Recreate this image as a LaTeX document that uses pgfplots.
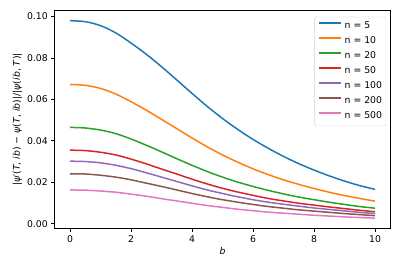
\documentclass[border=0pt]{standalone}
\usepackage{fontspec}
\setmainfont{DejaVu Sans}
\usepackage{pgfplots}
\pgfplotsset{compat=1.18}
\usepackage{pgfplotstable}
\definecolor{c0}{HTML}{1F77B4}
\definecolor{c1}{HTML}{FF7F0E}
\definecolor{c2}{HTML}{2CA02C}
\definecolor{c3}{HTML}{D62728}
\definecolor{c4}{HTML}{9467BD}
\definecolor{c5}{HTML}{8C564B}
\definecolor{c6}{HTML}{E377C2}
\pgfplotstableread{
b n5 n10 n20 n50 n100 n200 n500
0 0.0980 0.0672 0.0465 0.0355 0.0302 0.0241 0.0163
0.5 0.0975 0.0668 0.0462 0.0353 0.0300 0.0240 0.0162
1 0.0956 0.0653 0.0452 0.0345 0.0294 0.0234 0.0158
1.5 0.0921 0.0626 0.0435 0.0332 0.0282 0.0225 0.0152
2 0.0872 0.0589 0.0409 0.0312 0.0266 0.0212 0.0143
2.5 0.0818 0.0548 0.0379 0.0289 0.0246 0.0196 0.0133
3 0.0758 0.0504 0.0347 0.0264 0.0225 0.0180 0.0121
3.5 0.0694 0.0459 0.0314 0.0240 0.0204 0.0163 0.0110
4 0.0629 0.0414 0.0282 0.0215 0.0183 0.0146 0.0099
4.5 0.0566 0.0371 0.0252 0.0192 0.0163 0.0130 0.0088
5 0.0508 0.0332 0.0225 0.0171 0.0146 0.0116 0.0079
5.5 0.0455 0.0297 0.0201 0.0153 0.0130 0.0104 0.0070
6 0.0407 0.0265 0.0180 0.0137 0.0116 0.0093 0.0063
6.5 0.0364 0.0237 0.0161 0.0122 0.0104 0.0083 0.0056
7 0.0325 0.0212 0.0144 0.0110 0.0094 0.0075 0.0051
7.5 0.0290 0.0190 0.0129 0.0099 0.0085 0.0067 0.0046
8 0.0259 0.0170 0.0116 0.0090 0.0076 0.0061 0.0041
8.5 0.0231 0.0152 0.0104 0.0081 0.0069 0.0055 0.0037
9 0.0206 0.0136 0.0093 0.0073 0.0062 0.0049 0.0033
9.5 0.0184 0.0122 0.0083 0.0065 0.0055 0.0044 0.0030
10 0.0166 0.0109 0.0075 0.0058 0.0049 0.0039 0.0027
}\data
\begin{document}
\begin{tikzpicture}
\begin{axis}[
  name=ax,
  scale only axis,
  width=335.5pt, height=217.6pt,
  xmin=-0.5, xmax=10.5,
  ymin=-0.0022, ymax=0.1028,
  xtick={0,2,4,6,8,10},
  ytick={0,0.02,0.04,0.06,0.08,0.10},
  yticklabel style={/pgf/number format/.cd, fixed, fixed zerofill, precision=2},
  scaled y ticks=false,
  /pgf/number format/assume math mode=true,
  tick align=outside,
  major tick length=3.5pt,
  tick style={black, line width=0.8pt},
  axis line style={line width=0.8pt},
  tick label style={font=\fontsize{9.3}{11}\selectfont},
  xtick pos=bottom, ytick pos=left,
  xlabel={\fontsize{9.3}{11}\selectfont\textit{b}},
  ylabel={\fontsize{9.3}{11}\selectfont|\textit{ψ}′(\textit{T}, \textit{ib}) − \textit{ψ}(\textit{T}, \textit{ib})|/|\textit{ψ}(\textit{ib}, \textit{T})|},
  xlabel style={yshift=2pt},
  ylabel style={yshift=-2pt},
  legend style={at={(0.988,0.972)}, anchor=north east, draw=black!18, rounded corners=2pt,
    font=\fontsize{9.3}{11}\selectfont, row sep=6pt, inner xsep=4pt, inner ysep=5pt,
    nodes={inner sep=0pt, text height=7pt, text depth=2pt}, column sep=2.5pt},
  legend cell align=left,
  legend image code/.code={\draw[#1, line width=1.5pt] (0pt,3.5pt) -- (22pt,3.5pt);},
  every axis plot/.append style={line width=1.5pt, smooth},
]
\addplot[c0] table[x=b,y=n5]{\data};
\addlegendentry{n = 5}
\addplot[c1] table[x=b,y=n10]{\data};
\addlegendentry{n = 10}
\addplot[c2] table[x=b,y=n20]{\data};
\addlegendentry{n = 20}
\addplot[c3] table[x=b,y=n50]{\data};
\addlegendentry{n = 50}
\addplot[c4] table[x=b,y=n100]{\data};
\addlegendentry{n = 100}
\addplot[c5] table[x=b,y=n200]{\data};
\addlegendentry{n = 200}
\addplot[c6] table[x=b,y=n500]{\data};
\addlegendentry{n = 500}
\end{axis}
\useasboundingbox ([xshift=-54.75pt,yshift=-39.7pt]ax.south west) rectangle ([xshift=9.75pt,yshift=10.7pt]ax.north east);
\end{tikzpicture}
\end{document}
